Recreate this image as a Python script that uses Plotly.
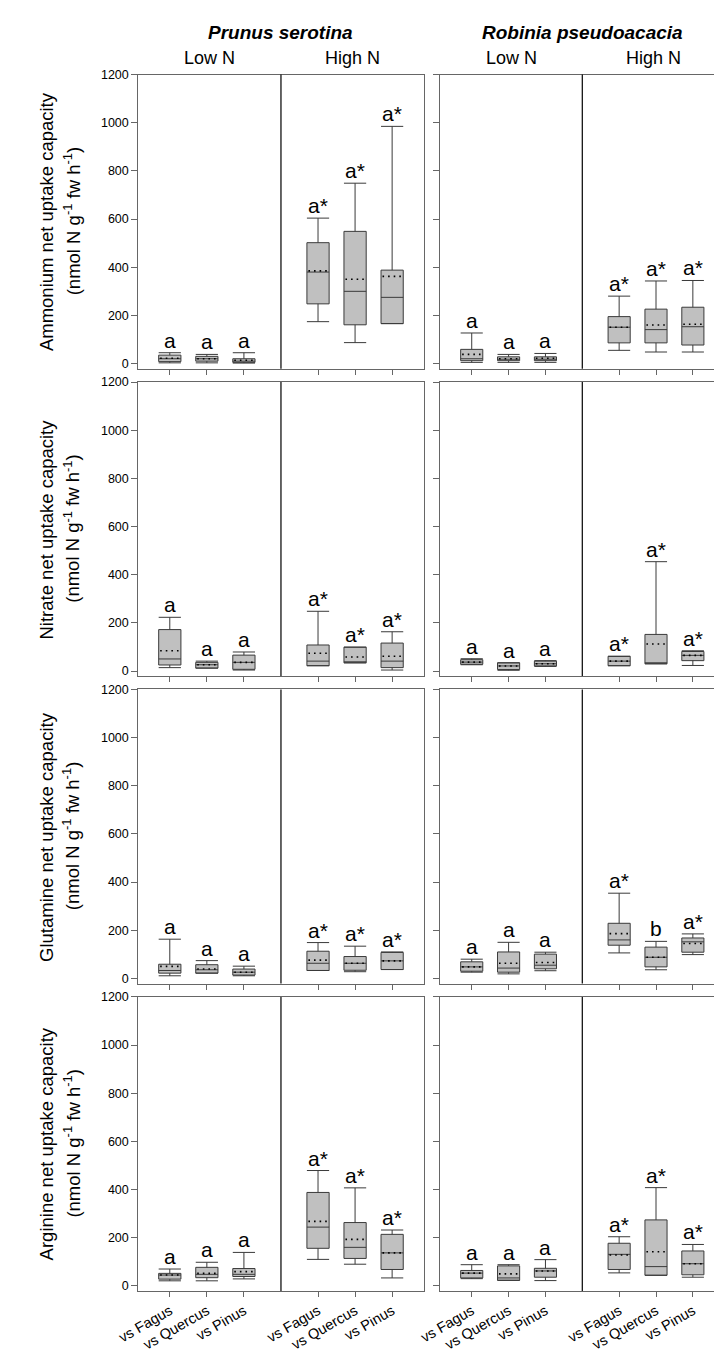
import plotly.graph_objects as go

W, H = 722, 1350
FONT = "Liberation Sans, Arial, sans-serif"

species = ["Prunus serotina", "Robinia pseudoacacia"]
treatments = ["Low N", "High N"]
competitors = ["vs Fagus", "vs Quercus", "vs Pinus"]
nutrients = ["Ammonium", "Nitrate", "Glutamine", "Arginine"]
positions = [1, 2, 3, 5, 6, 7]
tick_labels = competitors + competitors
y_ticks = [0, 200, 400, 600, 800, 1000, 1200]

# order of boxes in each panel: Low N (Fagus, Quercus, Pinus), High N (Fagus, Quercus, Pinus)
# ---- Ammonium ----
amm_pru_lf = [3, 3, 2, 174, 87, 166]
amm_pru_q1 = [8, 10, 5, 248, 161, 166]
amm_pru_med = [20, 20, 10, 380, 300, 275]
amm_pru_q3 = [35, 30, 20, 502, 549, 388]
amm_pru_uf = [45, 38, 45, 604, 749, 985]
amm_pru_mean = [22, 20, 14, 385, 350, 362]
amm_pru_let = ["a", "a", "a", "a*", "a*", "a*"]

amm_rob_lf = [5, 5, 5, 55, 48, 48]
amm_rob_q1 = [12, 12, 12, 86, 86, 77]
amm_rob_med = [20, 18, 18, 151, 141, 153]
amm_rob_q3 = [59, 28, 28, 195, 226, 234]
amm_rob_uf = [127, 38, 42, 280, 343, 345]
amm_rob_mean = [38, 20, 22, 151, 160, 163]
amm_rob_let = ["a", "a", "a", "a*", "a*", "a*"]

# ---- Nitrate ----
nit_pru_lf = [14, 12, 4, 22, 34, 4]
nit_pru_q1 = [25, 12, 7, 22, 34, 14]
nit_pru_med = [50, 26, 36, 41, 34, 41]
nit_pru_q3 = [172, 36, 66, 108, 99, 116]
nit_pru_uf = [223, 41, 79, 248, 99, 163]
nit_pru_mean = [84, 26, 36, 74, 58, 61]
nit_pru_let = ["a", "a", "a", "a*", "a*", "a*"]

nit_rob_lf = [26, 3, 19, 22, 30, 23]
nit_rob_q1 = [28, 6, 21, 22, 30, 43]
nit_rob_med = [37, 21, 30, 41, 34, 65]
nit_rob_q3 = [47, 34, 41, 61, 152, 81]
nit_rob_uf = [51, 34, 43, 61, 454, 84]
nit_rob_mean = [37, 21, 30, 41, 112, 65]
nit_rob_let = ["a", "a", "a", "a*", "a*", "a*"]

# ---- Glutamine ----
glu_pru_lf = [11, 22, 11, 33, 28, 37]
glu_pru_q1 = [22, 22, 14, 33, 34, 37]
glu_pru_med = [33, 36, 26, 63, 63, 73]
glu_pru_q3 = [59, 57, 39, 113, 91, 108]
glu_pru_uf = [163, 74, 51, 149, 134, 110]
glu_pru_mean = [50, 39, 26, 76, 63, 73]
glu_pru_let = ["a", "a", "a", "a*", "a*", "a*"]

glu_rob_lf = [26, 19, 32, 106, 36, 99]
glu_rob_q1 = [30, 26, 40, 138, 48, 109]
glu_rob_med = [48, 43, 55, 160, 88, 152]
glu_rob_q3 = [69, 110, 101, 229, 130, 168]
glu_rob_uf = [80, 150, 109, 354, 154, 185]
glu_rob_mean = [48, 63, 66, 186, 88, 145]
glu_rob_let = ["a", "a", "a", "a*", "b", "a*"]

# ---- Arginine ----
arg_pru_lf = [21, 21, 29, 110, 90, 33]
arg_pru_q1 = [28, 34, 39, 156, 114, 68]
arg_pru_med = [45, 48, 48, 244, 160, 137]
arg_pru_q3 = [52, 77, 72, 388, 263, 214]
arg_pru_uf = [70, 98, 139, 479, 407, 232]
arg_pru_mean = [45, 52, 59, 268, 193, 137]
arg_pru_let = ["a", "a", "a", "a*", "a*", "a*"]

arg_rob_lf = [30, 23, 22, 54, 44, 36]
arg_rob_q1 = [33, 23, 36, 68, 44, 46]
arg_rob_med = [53, 33, 62, 131, 80, 92]
arg_rob_q3 = [64, 83, 73, 177, 274, 145]
arg_rob_uf = [88, 88, 109, 204, 408, 172]
arg_rob_mean = [53, 50, 62, 128, 142, 92]
arg_rob_let = ["a", "a", "a", "a*", "a*", "a*"]

panels = [
    [(amm_pru_lf, amm_pru_q1, amm_pru_med, amm_pru_q3, amm_pru_uf, amm_pru_mean, amm_pru_let),
     (amm_rob_lf, amm_rob_q1, amm_rob_med, amm_rob_q3, amm_rob_uf, amm_rob_mean, amm_rob_let)],
    [(nit_pru_lf, nit_pru_q1, nit_pru_med, nit_pru_q3, nit_pru_uf, nit_pru_mean, nit_pru_let),
     (nit_rob_lf, nit_rob_q1, nit_rob_med, nit_rob_q3, nit_rob_uf, nit_rob_mean, nit_rob_let)],
    [(glu_pru_lf, glu_pru_q1, glu_pru_med, glu_pru_q3, glu_pru_uf, glu_pru_mean, glu_pru_let),
     (glu_rob_lf, glu_rob_q1, glu_rob_med, glu_rob_q3, glu_rob_uf, glu_rob_mean, glu_rob_let)],
    [(arg_pru_lf, arg_pru_q1, arg_pru_med, arg_pru_q3, arg_pru_uf, arg_pru_mean, arg_pru_let),
     (arg_rob_lf, arg_rob_q1, arg_rob_med, arg_rob_q3, arg_rob_uf, arg_rob_mean, arg_rob_let)],
]

# ---- layout geometry (pixels) ----
col_x = [(111.7, 406.0), (423.3, 716.0)]
row_top0, row_step, row_h = 60.0, 309.5, 296.0
XR = [0.15, 7.85]
YR = [-21, 1200]
BOXW = 0.6

fig = go.Figure()
layout = dict(width=W, height=H, margin=dict(l=0, r=0, t=0, b=0),
              paper_bgcolor="white", plot_bgcolor="white", showlegend=False,
              font=dict(family=FONT, color="black"))
annotations = []
shapes = []

idx = 0
for r in range(4):
    top = row_top0 + r * row_step
    bot = top + row_h
    ydom = [1 - bot / H, 1 - top / H]
    for c in range(2):
        idx += 1
        xa = "x" if idx == 1 else f"x{idx}"
        ya = "y" if idx == 1 else f"y{idx}"
        xkey = "xaxis" if idx == 1 else f"xaxis{idx}"
        ykey = "yaxis" if idx == 1 else f"yaxis{idx}"
        lf, q1, med, q3, uf, mean, lets = panels[r][c]
        fig.add_trace(go.Box(
            x=positions, q1=q1, median=med, q3=q3, lowerfence=lf, upperfence=uf,
            width=BOXW, whiskerwidth=1, fillcolor="#c0c0c0",
            line=dict(color="#3a3a3a", width=1), boxpoints=False,
            xaxis=xa, yaxis=ya, hoverinfo="skip"))
        mx, my = [], []
        for p, m in zip(positions, mean):
            mx += [p - 0.26, p + 0.26, None]
            my += [m, m, None]
        fig.add_trace(go.Scatter(x=mx, y=my, mode="lines",
                                 line=dict(color="black", width=1.6, dash="1.6px,4px"),
                                 xaxis=xa, yaxis=ya, hoverinfo="skip"))
        x0, x1 = col_x[c]
        layout[xkey] = dict(domain=[x0 / W, x1 / W], range=XR, anchor=ya,
                            showgrid=False, zeroline=False, showline=True, mirror=True,
                            linecolor="#666666", linewidth=1,
                            tickmode="array", tickvals=positions, ticktext=tick_labels,
                            showticklabels=(r == 3),
                            ticks="outside", ticklen=5, tickcolor="#666666",
                            tickangle=-30, tickfont=dict(size=14.5, family=FONT))
        layout[ykey] = dict(domain=ydom, range=YR, anchor=xa,
                            showgrid=False, zeroline=False, showline=True, mirror=True,
                            linecolor="#666666", linewidth=1,
                            tickmode="array", tickvals=y_ticks,
                            showticklabels=(c == 0),
                            ticks="outside", ticklen=6, tickcolor="#666666",
                            tickfont=dict(size=12.5, family=FONT))
        # separator between Low N and High N
        shapes.append(dict(type="line", xref=xa, yref=f"{ya} domain",
                           x0=4, x1=4, y0=0, y1=1, line=dict(color="black", width=1.2)))
        for p, u, t in zip(positions, uf, lets):
            annotations.append(dict(x=p, y=u, xref=xa, yref=ya, text=t, showarrow=False,
                                    xanchor="center", yanchor="bottom", yshift=-1,
                                    font=dict(size=21, family=FONT)))
    # y axis title (two lines)
    yc = 1 - (top + bot) / 2 / H
    annotations.append(dict(x=17 / W, y=yc, xref="paper", yref="paper",
                            text=f"{nutrients[r]} net uptake capacity", textangle=-90,
                            showarrow=False, xanchor="center", yanchor="middle",
                            font=dict(size=18.5, family=FONT)))
    annotations.append(dict(x=43 / W, y=yc, xref="paper", yref="paper",
                            text="(nmol N g<sup>-1</sup> fw h<sup>-1</sup>)", textangle=-90,
                            showarrow=False, xanchor="center", yanchor="middle",
                            font=dict(size=18.5, family=FONT)))

# column titles and treatment labels
for c in range(2):
    x0, x1 = col_x[c]
    annotations.append(dict(x=(x0 + x1) / 2 / W, y=1 - 18 / H, xref="paper", yref="paper",
                            text=f"<b><i>{species[c]}</i></b>", showarrow=False,
                            xanchor="center", yanchor="middle",
                            font=dict(size=19, family=FONT)))
    xsep = x0 + (x1 - x0) * (4 - XR[0]) / (XR[1] - XR[0])
    for k, (a, b) in enumerate([(x0, xsep), (xsep, x1)]):
        annotations.append(dict(x=(a + b) / 2 / W, y=1 - 43 / H, xref="paper", yref="paper",
                                text=treatments[k], showarrow=False,
                                xanchor="center", yanchor="middle",
                                font=dict(size=18, family=FONT)))

layout["annotations"] = annotations
layout["shapes"] = shapes
fig.update_layout(**layout)
fig.write_html("out.html")
